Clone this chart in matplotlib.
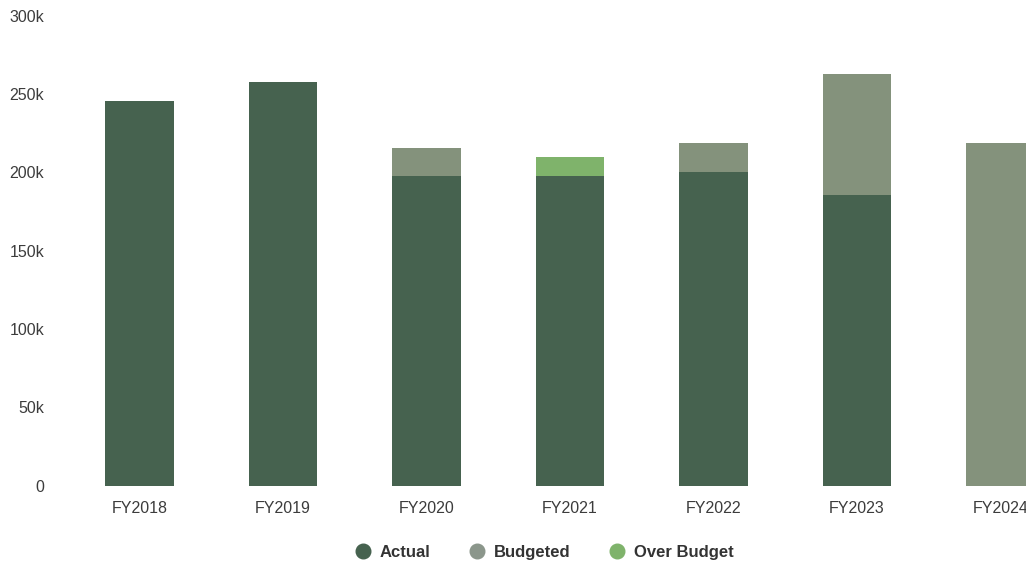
import numpy as np
import matplotlib
matplotlib.use("Agg")
import matplotlib.pyplot as plt
from matplotlib.lines import Line2D

plt.rcParams['font.family'] = ['Liberation Sans', 'DejaVu Sans']

# Fiscal-year spending (thousands)
years = ["FY2018", "FY2019", "FY2020", "FY2021", "FY2022", "FY2023", "FY2024"]
actual = [246, 258, 198, 210, 200, 185.5, 0]
budgeted = [246, 258, 215.5, 198, 219, 263, 219]
y_ticks = [0, 50, 100, 150, 200, 250, 300]
y_tick_labels = ["0", "50k", "100k", "150k", "200k", "250k", "300k"]

c_actual = "#46624f"
c_budget = "#84927c"
c_over = "#7fb36b"

actual_arr = np.array(actual, dtype=float)
budget_arr = np.array(budgeted, dtype=float)
base = np.minimum(actual_arr, budget_arr)
remaining = np.clip(budget_arr - actual_arr, 0, None)
over = np.clip(actual_arr - budget_arr, 0, None)

W, H = 1026, 563
fig = plt.figure(figsize=(W / 100, H / 100), dpi=100)
left_px, right_px = 67.75, 1026
top_px, bottom_px = 16, 485.5
ax = fig.add_axes([left_px / W, 1 - bottom_px / H,
                   (right_px - left_px) / W, (bottom_px - top_px) / H])

x = np.arange(len(years))
bw = 0.48
ax.bar(x, base, width=bw, color=c_actual, edgecolor="none")
ax.bar(x, remaining, width=bw, bottom=base, color=c_budget, edgecolor="none")
ax.bar(x, over, width=bw, bottom=base, color=c_over, edgecolor="none")

ax.set_xlim(-0.5, (right_px - 139.5) / 143.5)
ax.set_ylim(0, 300)
ax.set_xticks(x)
ax.set_xticklabels(years)
ax.set_yticks(y_ticks)
ax.set_yticklabels(y_tick_labels)
ax.tick_params(axis="both", length=0, labelsize=11.5, labelcolor="#3c3c3c")
ax.tick_params(axis="x", pad=11)
ax.tick_params(axis="y", pad=17)
for s in ax.spines.values():
    s.set_visible(False)

handles = [
    Line2D([], [], marker="o", linestyle="none", markersize=10.5,
           markerfacecolor=c_actual, markeredgecolor=c_actual),
    Line2D([], [], marker="o", linestyle="none", markersize=10.5,
           markerfacecolor="#8b968b", markeredgecolor="#8b968b"),
    Line2D([], [], marker="o", linestyle="none", markersize=10.5,
           markerfacecolor=c_over, markeredgecolor=c_over),
]
leg = fig.legend(handles, ["Actual", "Budgeted", "Over Budget"],
                 loc="center", bbox_to_anchor=(544 / W, 1 - 552.5 / H),
                 ncol=3, frameon=False, handlelength=1.0, handletextpad=0.5,
                 columnspacing=2.3, borderaxespad=0, borderpad=0,
                 prop={"size": 12, "weight": "bold"})
for t in leg.get_texts():
    t.set_color("#333333")

fig.savefig("out.png", dpi=100)
